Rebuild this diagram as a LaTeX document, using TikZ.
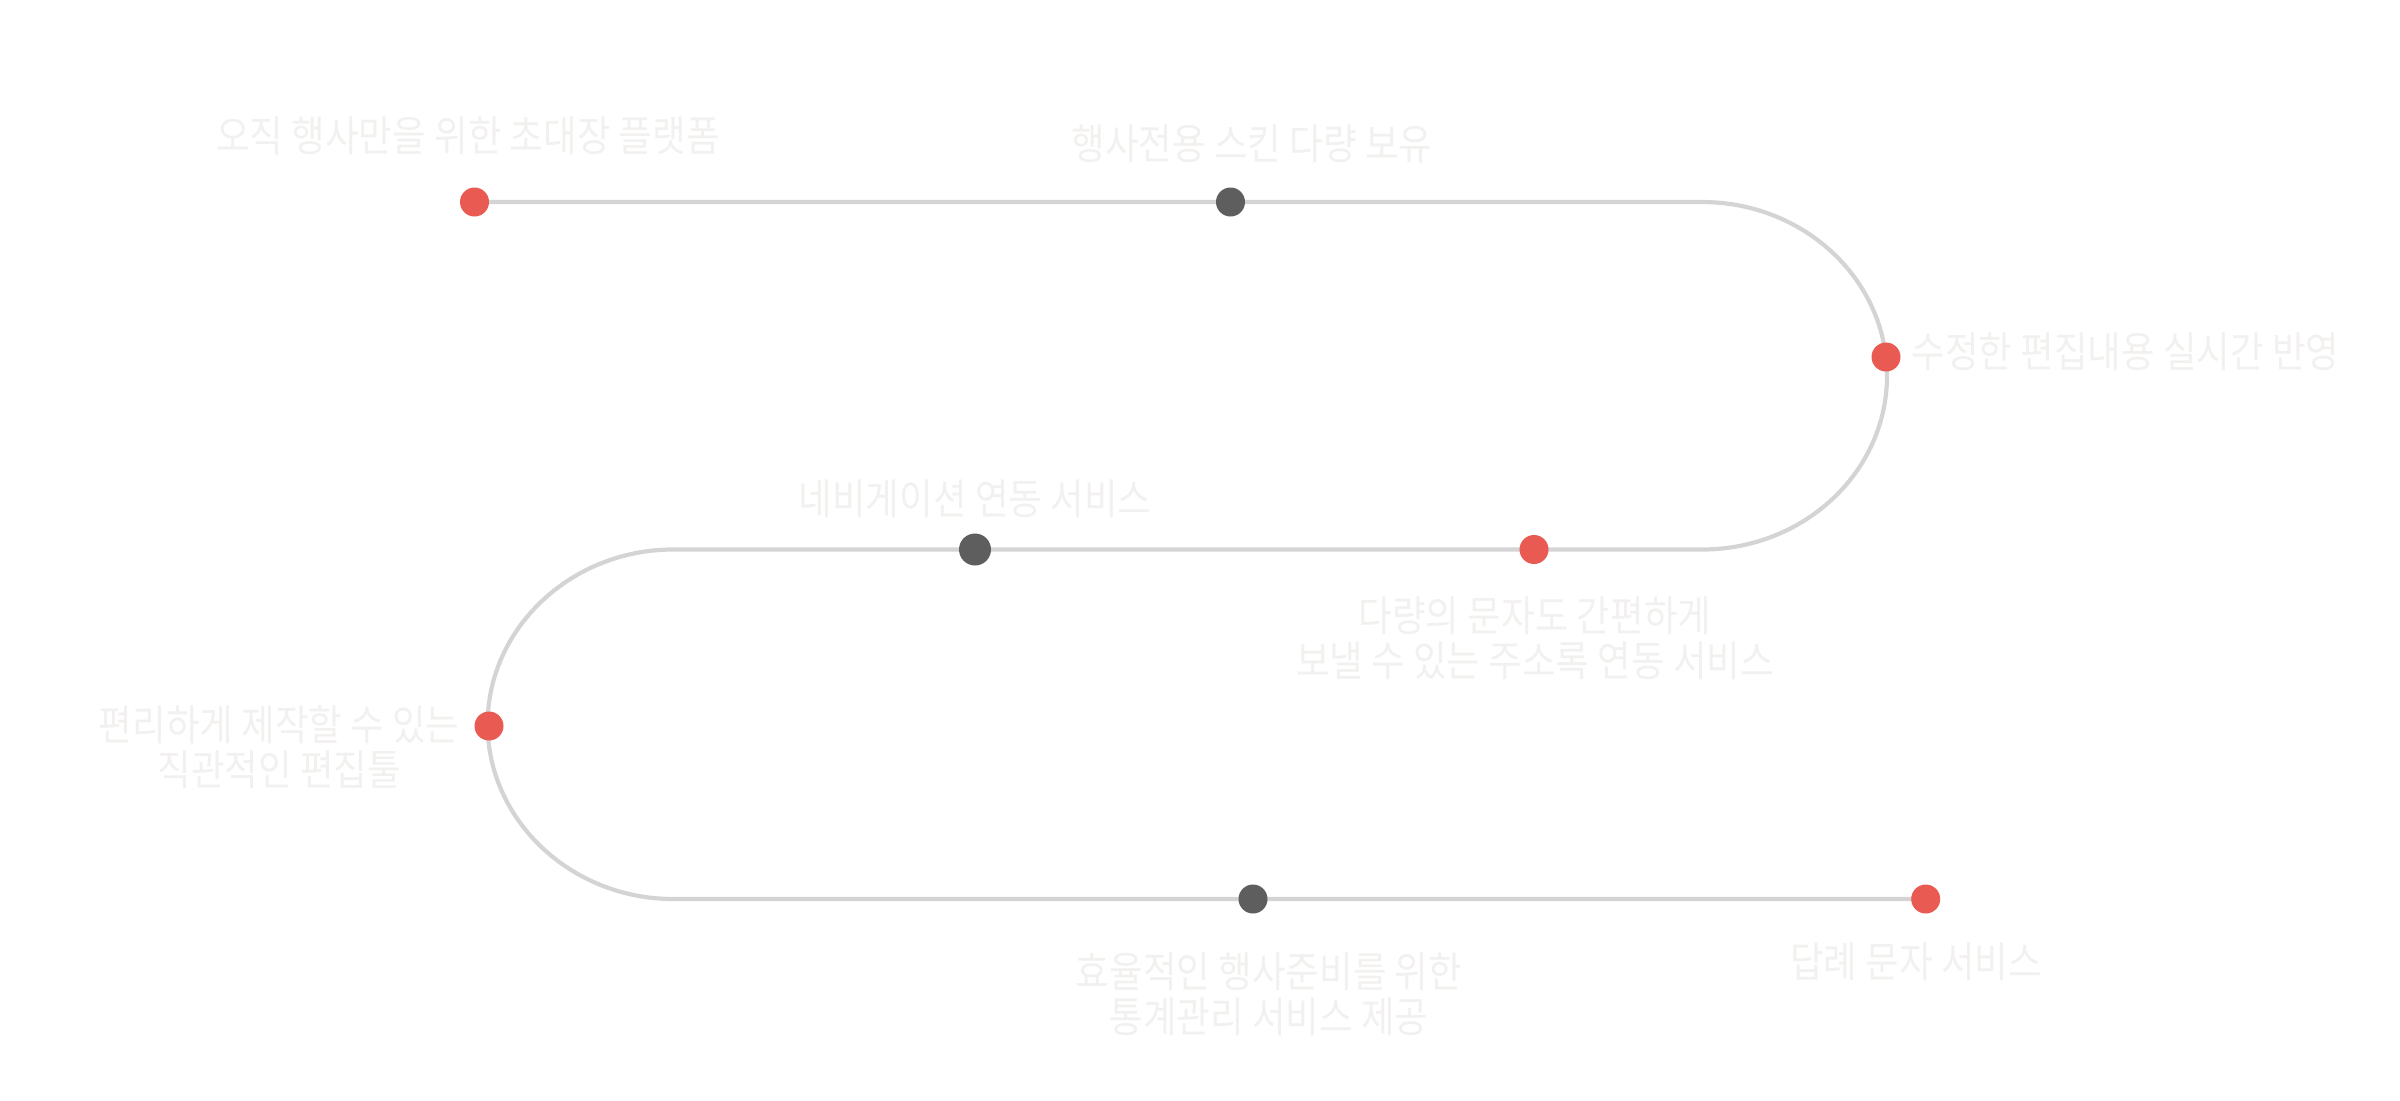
\documentclass[tikz,border=0pt]{standalone}
\usepackage{fontspec}
\newfontfamily\krfont[FakeStretch=0.87]{Noto Sans CJK KR}
\definecolor{trackgray}{HTML}{D4D4D4}
\definecolor{dotred}{HTML}{E85A52}
\definecolor{dotdark}{HTML}{5E5E5E}
\definecolor{textpale}{HTML}{F2F1EF}
\begin{document}
\begin{tikzpicture}[x=0.5pt,y=-0.5pt,
  track/.style={draw=trackgray, line width=2.1pt},
  reddot/.style={circle, fill=dotred, minimum size=14.5pt, inner sep=0pt},
  darkdot/.style={circle, fill=dotdark, minimum size=14.5pt, inner sep=0pt},
  bigdark/.style={darkdot, minimum size=16pt},
  tagtext/.style={text=textpale, inner sep=0pt, align=center,
    font=\krfont\fontsize{21pt}{22.5pt}\selectfont}]
  \useasboundingbox (0,0) rectangle (2400,1100);

  % corners of the winding track
  \coordinate (r1) at (1702,202);
  \coordinate (r2) at (1887,375.75);
  \coordinate (r3) at (1702,549.5);
  \coordinate (l1) at (673,549.5);
  \coordinate (l2) at (487.6,724.25);
  \coordinate (l3) at (673,899);

  % milestone positions (the track starts and ends on the first and last)
  \coordinate (p1) at (474.5,202);
  \coordinate (p8) at (1925.7,899);

  % the track itself
  \draw[track] (p1) -- (r1)
    .. controls (1804.2,202) and (1887,279.75) .. (r2)
    .. controls (1887,471.75) and (1804.2,549.5) .. (r3)
    -- (l1)
    .. controls (571.6,549.5) and (487.6,627.75) .. (l2)
    .. controls (487.6,820.75) and (571.6,899) .. (l3)
    -- (p8);

  % milestone dots on top of the track
  \node[reddot]  (d1) at (p1) {};
  \node[darkdot] (d2) at (1230.5,202) {};
  \node[reddot]  (d3) at (1886,357) {};
  \node[reddot]  (d4) at (1534,549.5) {};
  \node[bigdark] (d5) at (975,549.5) {};
  \node[reddot]  (d6) at (489,726) {};
  \node[darkdot] (d7) at (1253,899) {};
  \node[reddot]  (d8) at (p8) {};

  % captions
  \node[tagtext] (t1) at (468,136) {오직 행사만을 위한 초대장 플랫폼};
  \node[tagtext] (t2) at (1252,144) {행사전용 스킨 다량 보유};
  \node[tagtext, anchor=west] (t3) at (1911,352) {수정한 편집내용 실시간 반영};
  \node[tagtext] (t4) at (975,499) {네비게이션 연동 서비스};
  \node[tagtext] (t5) at (1535,638) {다량의 문자도 간편하게\\보낼 수 있는 주소록 연동 서비스};
  \node[tagtext, anchor=east] (t6) at (460,747) {편리하게 제작할 수 있는\\직관적인 편집툴};
  \node[tagtext] (t7) at (1269,994) {효율적인 행사준비를 위한\\통계관리 서비스 제공};
  \node[tagtext] (t8) at (1916,961.5) {답례 문자 서비스};
\end{tikzpicture}
\end{document}
